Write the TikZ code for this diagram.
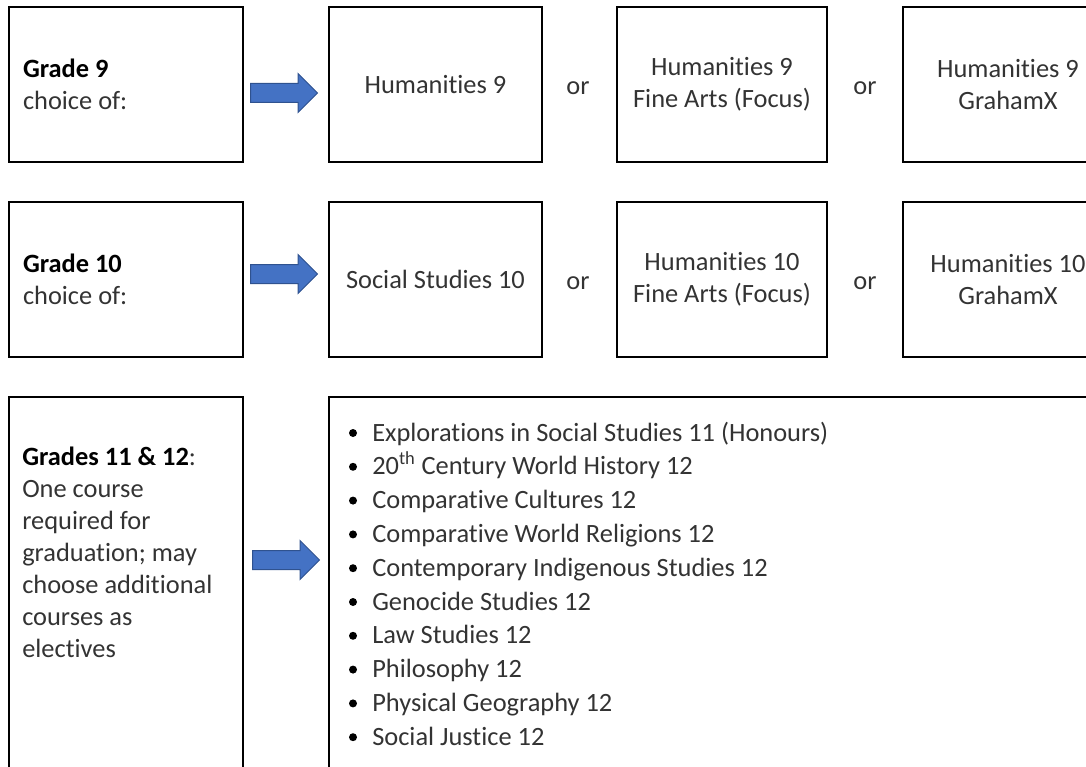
\documentclass[tikz,border=0pt]{standalone}
\usepackage{fontspec}
\setmainfont{Carlito}[Ligatures={NoCommon}]
\usetikzlibrary{shapes.arrows}
\definecolor{arrowblue}{HTML}{4472C4}
\definecolor{arrowedge}{HTML}{2F528F}
\definecolor{textgray}{HTML}{333333}

\begin{document}
\begin{tikzpicture}[x=0.75pt, y=-0.75pt,
    every node/.style={font=\fontsize{19.8pt}{24pt}\selectfont, text=textgray},
    gradebox/.style={draw=black, line width=1.5pt, minimum width=175.5pt, minimum height=116.25pt,
        text width=154.5pt, inner xsep=10.5pt, align=flush left},
    coursebox/.style={draw=black, line width=1.5pt, minimum width=#1, minimum height=116.25pt, align=center},
    coursebox/.default=158pt,
    blockarrow/.style={single arrow, draw=arrowedge, fill=arrowblue, line width=0.75pt,
        inner xsep=0pt, inner ysep=6.75pt, single arrow head extend=7.5pt,
        minimum height=50.25pt, anchor=tail}
]
    \useasboundingbox (0,0) rectangle (1086,767);
    \clip (0,0) rectangle (1086,767);

    % Grade 9
    \node[gradebox] (g9) at (126,84.5) {\textcolor{black}{\textbf{Grade 9}}\\choice of:};
    \node[blockarrow] (arr9) at (250,93) {};
    \node[coursebox=159.75pt] (hum9) at (435.5,84.5) {Humanities 9};
    \node (or9a) at (578,88) {or};
    \node[coursebox] (hum9fa) at (722,84.5) {Humanities 9\\Fine Arts (Focus)};
    \node (or9b) at (865,88) {or};
    \node[coursebox] (hum9gx) at (1008,84.5) {Humanities 9\\GrahamX};

    % Grade 10
    \node[gradebox] (g10) at (126,279.5) {\textcolor{black}{\textbf{Grade 10}}\\choice of:};
    \node[blockarrow] (arr10) at (250,274) {};
    \node[coursebox=159.75pt] (ss10) at (435.5,279.5) {Social Studies 10};
    \node (or10a) at (578,283) {or};
    \node[coursebox] (hum10fa) at (722,279.5) {Humanities 10\\Fine Arts (Focus)};
    \node (or10b) at (865,283) {or};
    \node[coursebox] (hum10gx) at (1008,279.5) {Humanities 10\\GrahamX};

    % Grades 11 & 12
    \node[draw=black, line width=1.5pt, minimum width=175.5pt, minimum height=302.25pt] (g11) at (126,598.5) {};
    \node[anchor=north west, inner sep=0pt, align=flush left] (g11txt) at ([shift={(14,50.5)}]g11.north west)
        {\textcolor{black}{\textbf{Grades 11 \& 12}}:\\One course\\required for\\graduation; may\\choose additional\\courses as\\electives};
    \node[blockarrow] (arr11) at (252,560) {};
    \node[draw=black, line width=1.5pt, minimum width=593.25pt, minimum height=302.25pt] (electives) at (724.5,598.5) {};
    \foreach \course [count=\i from 0] in {Explorations in Social Studies 11 (Honours),
        20\textsuperscript{th} Century World History 12, Comparative Cultures 12,
        Comparative World Religions 12, Contemporary Indigenous Studies 12,
        Genocide Studies 12, Law Studies 12, Philosophy 12,
        Physical Geography 12, Social Justice 12} {
        \fill[black] (353,{433+33.8*\i}) circle (4);
        \node[anchor=base west, inner sep=0pt] (course\i) at (372,{441+33.8*\i}) {\course};
    }
\end{tikzpicture}
\end{document}
